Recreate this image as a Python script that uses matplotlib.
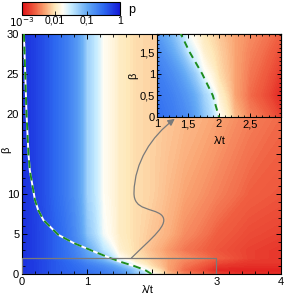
import numpy as np
import matplotlib
matplotlib.use("Agg")
import matplotlib.pyplot as plt
from matplotlib.colors import LinearSegmentedColormap, LogNorm
from matplotlib.patches import FancyArrowPatch, Rectangle
from matplotlib.path import Path
from matplotlib.ticker import MultipleLocator

plt.rcParams["font.family"] = ["Liberation Sans", "DejaVu Sans"]
plt.rcParams["font.size"] = 8

# ── Datos: log10(p) sobre una malla (lambda/t, beta) ──
lam = [0.0, 0.5, 1.0, 1.25, 1.5, 1.75, 2.0, 2.25, 2.5, 3.0, 3.5, 4.0]
beta = [0.0, 0.5, 1.0, 1.5, 2.0, 3.0, 5.0, 10.0, 20.0, 30.0]
logp = [
    [-0.15, -0.4, -0.55, -0.65, -0.8, -1.2, -1.75, -2.2, -2.45, -2.75, -2.85, -2.85],
    [-0.15, -0.4, -0.6, -0.7, -0.9, -1.3, -1.9, -2.3, -2.55, -2.9, -2.9, -2.9],
    [-0.15, -0.4, -0.65, -0.8, -1.1, -1.7, -2.05, -2.3, -2.5, -2.8, -2.85, -2.85],
    [-0.15, -0.4, -0.75, -1.0, -1.5, -1.9, -2.1, -2.3, -2.45, -2.7, -2.8, -2.8],
    [-0.15, -0.45, -0.9, -1.2, -1.75, -2.0, -2.15, -2.3, -2.4, -2.6, -2.75, -2.8],
    [-0.15, -0.45, -1.0, -1.45, -1.9, -2.05, -2.2, -2.35, -2.5, -2.65, -2.75, -2.8],
    [-0.15, -0.45, -1.2, -1.7, -1.95, -2.05, -2.15, -2.25, -2.4, -2.6, -2.7, -2.75],
    [-0.15, -0.5, -1.3, -1.75, -1.95, -2.05, -2.1, -2.2, -2.3, -2.45, -2.6, -2.65],
    [-0.15, -0.5, -1.3, -1.75, -1.95, -2.05, -2.1, -2.15, -2.2, -2.3, -2.45, -2.55],
    [-0.15, -0.5, -1.3, -1.75, -1.95, -2.05, -2.1, -2.15, -2.2, -2.3, -2.4, -2.5],
]

# curva critica (linea verde discontinua)
lam_c = [0.03, 0.05, 0.07, 0.1, 0.12, 0.2, 0.25, 0.33, 0.56, 0.79, 1.13, 1.36, 1.53, 1.73, 1.9, 2.0]
beta_c = [30, 25, 20, 15, 13, 9.25, 8, 6.75, 4.9, 3.9, 2.75, 2.0, 1.5, 1.0, 0.5, 0.0]

# mapa de colores rojo -> crema -> blanco -> azul
nodos = [
    (0.000, (222, 16, 22)),
    (0.133, (240, 95, 65)),
    (0.233, (250, 165, 115)),
    (0.333, (254, 232, 185)),
    (0.417, (255, 253, 245)),
    (0.500, (200, 237, 255)),
    (0.667, (100, 170, 245)),
    (0.833, (45, 105, 240)),
    (1.000, (20, 25, 215)),
]
cmap = LinearSegmentedColormap.from_list(
    "rwb", [(p, tuple(c / 255 for c in col)) for p, col in nodos])
norm = LogNorm(1e-3, 1)

L, B = np.meshgrid(lam, beta)
P = 10 ** np.array(logp)
niveles = np.logspace(-3.05, 0.05, 150)

verde = "#1e8c1e"
gris = "#7a7a7a"

fig = plt.figure(figsize=(2.99, 2.99), dpi=100)

# ── Panel principal ──
ax = fig.add_axes([22 / 299, 25 / 299, 259 / 299, 240 / 299])
ax.contourf(L, B, P, levels=niveles, cmap=cmap, norm=norm, antialiased=False)
ax.plot(lam_c, beta_c, color="white", lw=1.4, zorder=3)
ax.plot(lam_c, beta_c, color=verde, lw=1.4, dashes=(4, 2.5), zorder=4)
ax.add_patch(Rectangle((0, 0), 3, 2, fill=False, ec=gris, lw=0.9, zorder=5))
ax.set_xlim(0, 4)
ax.set_ylim(0, 30)
ax.set_xticks([0, 1, 2, 3, 4])
ax.set_xticklabels(["0", "1", "", "3", "4"])
ax.set_yticks([0, 5, 10, 15, 20, 25, 30])
ax.set_yticklabels(["0", "5", "10", "", "20", "25", "30"])
ax.xaxis.set_minor_locator(MultipleLocator(0.2))
ax.yaxis.set_minor_locator(MultipleLocator(1))
ax.tick_params(which="both", direction="in", top=True, right=True, pad=2)
ax.tick_params(which="major", length=3.5, width=0.7)
ax.tick_params(which="minor", length=2, width=0.6)
ax.set_xlabel("λ/t")
ax.xaxis.set_label_coords(0.486, -0.045)
ax.set_ylabel("β")
ax.yaxis.set_label_coords(-0.04, 0.517)

# flecha gris curva hacia el recuadro
ruta = Path(
    [(1.69, 2.0), (2.0, 4.5), (2.3, 6.3), (2.15, 7.4),
     (2.02, 8.3), (1.72, 7.9), (1.73, 10.2),
     (1.74, 14.0), (2.0, 17.2), (2.36, 19.4)],
    [Path.MOVETO, Path.CURVE4, Path.CURVE4, Path.CURVE4,
     Path.CURVE4, Path.CURVE4, Path.CURVE4,
     Path.CURVE4, Path.CURVE4, Path.CURVE4])
flecha = FancyArrowPatch(path=ruta, arrowstyle="-|>,head_length=4,head_width=2",
                         color=gris, lw=0.9, transform=ax.transData, zorder=6)
ax.add_patch(flecha)

# ── Recuadro (zoom bajo beta) ──
axi = fig.add_axes([157 / 299, 182 / 299, 124 / 299, 83 / 299])
axi.contourf(L, B, P, levels=niveles, cmap=cmap, norm=norm, antialiased=False)
axi.plot(lam_c, beta_c, color=verde, lw=1.4, dashes=(3.5, 2.5), zorder=4)
axi.set_xlim(1, 3)
axi.set_ylim(0, 1.93)
axi.set_xticks([1, 1.5, 2, 2.5])
axi.set_xticklabels(["1", "1,5", "2", "2,5"])
axi.set_yticks([0, 0.5, 1, 1.5])
axi.set_yticklabels(["0", "0,5", "1", "1,5"])
axi.xaxis.set_minor_locator(MultipleLocator(0.1))
axi.yaxis.set_minor_locator(MultipleLocator(0.1))
axi.tick_params(which="both", direction="in", top=True, right=True, pad=1.5)
axi.tick_params(which="major", length=3, width=0.7)
axi.tick_params(which="minor", length=1.5, width=0.6)
axi.set_xlabel("λ/t")
axi.xaxis.set_label_coords(0.51, -0.23)
axi.set_ylabel("β")
axi.yaxis.set_label_coords(-0.15, 0.5)

# ── Barra de color ──
cax = fig.add_axes([22 / 299, 284 / 299, 98 / 299, 13 / 299])
sm = plt.cm.ScalarMappable(norm=norm, cmap=cmap)
cb = fig.colorbar(sm, cax=cax, orientation="horizontal")
cb.set_ticks([1e-3, 1e-2, 1e-1, 1])
cb.set_ticklabels(["$10^{-3}$", "0,01", "0,1", "1"])
cb.ax.minorticks_off()
cb.ax.tick_params(direction="in", length=3, width=0.6, pad=0.5, labelsize=7.5)
cb.outline.set_linewidth(0.8)
fig.text(128 / 299, 289 / 299, "p", fontsize=9, va="center", ha="left")

fig.savefig("out.png", dpi=100)
